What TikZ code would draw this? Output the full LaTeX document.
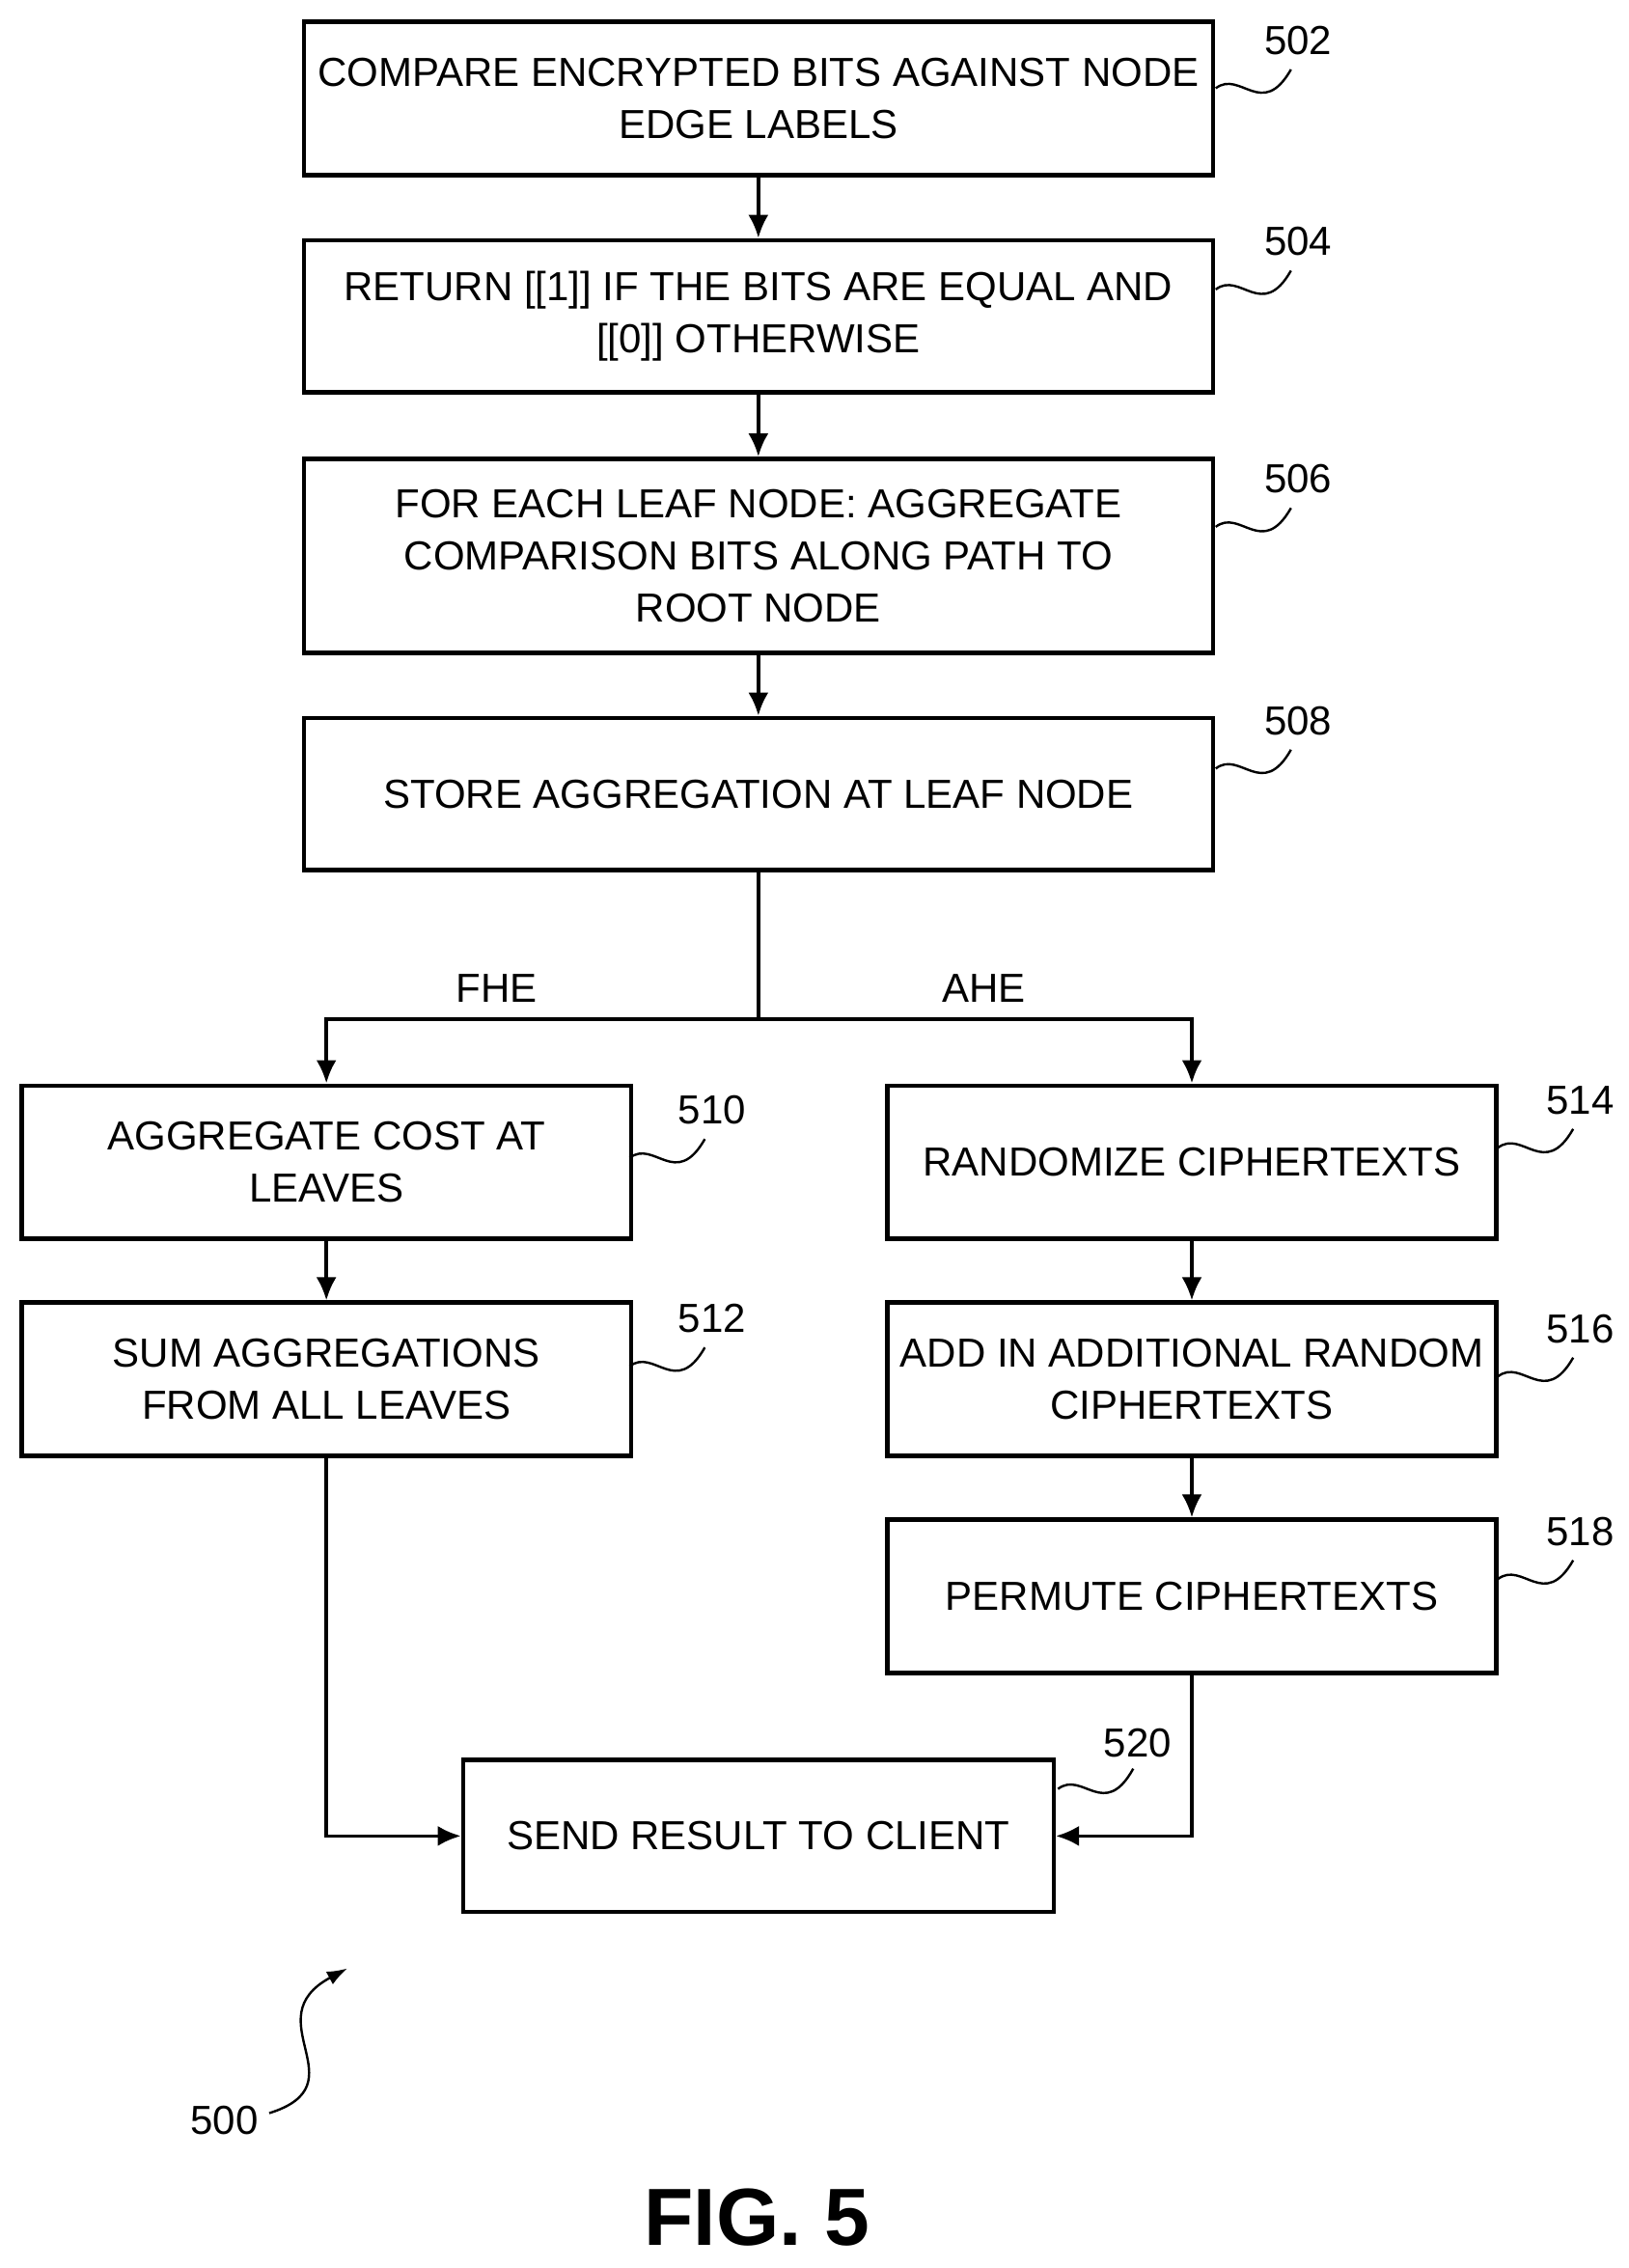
\documentclass[tikz,border=0pt]{standalone}
\usepackage{fontspec}
\setmainfont{Liberation Sans}
\usetikzlibrary{positioning,arrows.meta}
\tikzset{
  flowbox/.style={draw,line width=1.5pt,align=center,font=\fontsize{14}{18}\selectfont,inner sep=0pt},
  ref/.style={font=\fontsize{14}{16}\selectfont},
  flow/.style={line width=1.2pt,-{Latex[length=8pt,width=7pt]}},
  tie/.style={line width=0.8pt},
}
\begin{document}
\begin{tikzpicture}[x=0.5pt,y=-0.5pt]
   \useasboundingbox (0,0) rectangle (1125,1567);
   % boxes
   \node[flowbox,minimum width=314pt,minimum height=53pt] (s502) at (524,68) {COMPARE ENCRYPTED BITS AGAINST NODE\\EDGE LABELS};
   \node[flowbox,minimum width=314pt,minimum height=52.5pt] (s504) at (524,218.5) {RETURN {[[1]]} IF THE BITS ARE EQUAL AND\\{}{[[0]]} OTHERWISE};
   \node[flowbox,minimum width=314pt,minimum height=67pt] (s506) at (524,384) {FOR EACH LEAF NODE: AGGREGATE\\COMPARISON BITS ALONG PATH TO\\ROOT NODE};
   \node[flowbox,minimum width=314pt,minimum height=52.5pt] (s508) at (524,548.5) {STORE AGGREGATION AT LEAF NODE};
   \node[flowbox,minimum width=210.5pt,minimum height=53pt] (s510) at (225.5,803) {AGGREGATE COST AT\\LEAVES};
   \node[flowbox,minimum width=210.5pt,minimum height=53pt] (s512) at (225.5,953) {SUM AGGREGATIONS\\FROM ALL LEAVES};
   \node[flowbox,minimum width=210.5pt,minimum height=53pt] (s514) at (823.5,803) {RANDOMIZE CIPHERTEXTS};
   \node[flowbox,minimum width=210.5pt,minimum height=53pt] (s516) at (823.5,953) {ADD IN ADDITIONAL RANDOM\\CIPHERTEXTS};
   \node[flowbox,minimum width=210.5pt,minimum height=53pt] (s518) at (823.5,1103) {PERMUTE CIPHERTEXTS};
   \node[flowbox,minimum width=204pt,minimum height=52.5pt] (s520) at (524,1268.5) {SEND RESULT TO CLIENT};
   % flow
   \draw[flow] (s502) -- (s504);
   \draw[flow] (s504) -- (s506);
   \draw[flow] (s506) -- (s508);
   \coordinate (split) at (524,704);
   \draw[line width=1.2pt] (s508.south) -- (split);
   \draw[flow] (split) -| (s510.north);
   \draw[flow] (split) -| (s514.north);
   \node[ref] (fhe) at (343,683) {FHE};
   \node[ref] (ahe) at (680,683) {AHE};
   \draw[flow] (s510) -- (s512);
   \draw[flow] (s514) -- (s516);
   \draw[flow] (s516) -- (s518);
   \draw[flow] (s512.south) |- (s520.west);
   \draw[flow] (s518.south) |- (s520.east);
   % reference numerals
   \foreach \n/\x/\y in {502/897/28, 504/897/167, 506/897/331, 508/897/498, 510/492/767, 512/492/911, 514/1092/760, 516/1092/918, 518/1092/1058}{
     \node[ref] (r\n) at (\x,\y) {\n};
     \draw[tie] (\x-57,\y+33) .. controls (\x-40,\y+20) and (\x-25,\y+55) .. (\x-5,\y+20);
   }
   \node[ref] (r520) at (786,1204) {520};
   \draw[tie] (731,1236) .. controls (748,1223) and (763,1258) .. (783,1222);
   \node[ref] (r500) at (155,1465) {500};
   \draw[tie,-{Latex[length=7pt,width=5pt]}] (186,1460) .. controls (250,1440) and (175,1395) .. (240,1360);
   \node[font=\bfseries\fontsize{28}{30}\selectfont] (fig) at (523,1532) {FIG. 5};
\end{tikzpicture}
\end{document}
